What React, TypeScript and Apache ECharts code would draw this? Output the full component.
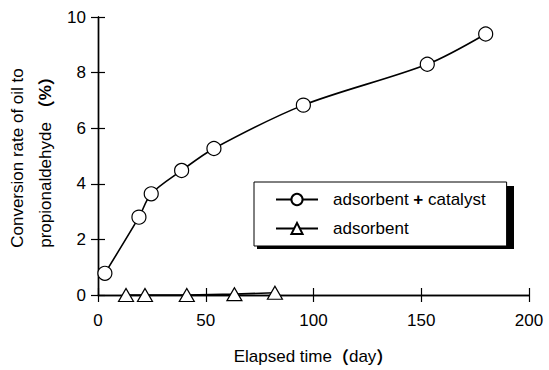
import React, { useEffect, useRef } from "react";
import * as echarts from "echarts";

const catalystDays = [3.2, 19, 24.7, 38.8, 53.8, 95.3, 152.8, 179.9];
const catalystRate = [0.78, 2.8, 3.64, 4.48, 5.27, 6.83, 8.3, 9.39];
const adsorbentDays = [13, 21.8, 41.2, 63.3, 82.1];
const adsorbentRate = [0, 0, 0, 0.03, 0.08];
const seriesNames = ["adsorbent + catalyst", "adsorbent"];
const yNameLines = ["Conversion rate of oil to", "propionaldehyde {p|（}{b|%}{p|）}"];
const xName = "Elapsed time{p|（}day{p|）}";

const FONT = "'Liberation Sans', Arial, 'Noto Sans CJK JP', sans-serif";
const CJK = "'Noto Sans CJK JP', sans-serif";

export default function App() {
  const ref = useRef<HTMLDivElement>(null);
  useEffect(() => {
    if (!ref.current) return;
    const chart = echarts.init(ref.current, null, { renderer: "svg" });
    const axisLine = { show: true, lineStyle: { color: "#000", width: 1.4 } };
    const tick = { show: true, inside: true, length: 7, lineStyle: { color: "#000", width: 1.2 } };
    const yNameStyle = (text: string) => ({
      text,
      fill: "#000",
      fontSize: 17,
      fontFamily: FONT,
      align: "center",
      verticalAlign: "middle",
      rich: {
        b: { fontSize: 17, fontWeight: "bold", fontFamily: FONT },
        p: { fontSize: 17, fontWeight: "bold", fontFamily: CJK },
      },
    });
    chart.setOption({
      animation: false,
      backgroundColor: "#fff",
      grid: { left: 98, right: 20, top: 17, bottom: 70 },
      graphic: [
        {
          type: "text",
          x: 17,
          y: 158,
          rotation: Math.PI / 2,
          style: yNameStyle(yNameLines[0]),
        },
        {
          type: "text",
          x: 45,
          y: 158,
          rotation: Math.PI / 2,
          style: yNameStyle(yNameLines[1]),
        },
        {
          type: "rect",
          z: 1,
          shape: { x: 257, y: 186, width: 257, height: 63 },
          style: { fill: "#000" },
        },
      ],
      xAxis: [
        {
          type: "value",
          min: 0,
          max: 200,
          interval: 50,
          position: "bottom",
          axisLine,
          axisTick: tick,
          splitLine: { show: false },
          axisLabel: { color: "#000", fontSize: 17, fontFamily: FONT, margin: 17 },
          name: xName,
          nameLocation: "middle",
          nameGap: 53,
          nameTextStyle: {
            color: "#000",
            fontSize: 17,
            fontFamily: FONT,
            rich: { p: { fontSize: 17, fontWeight: "bold", fontFamily: CJK } },
          },
        },
        {
          type: "value",
          min: 0,
          max: 200,
          interval: 50,
          position: "top",
          axisLine,
          axisTick: tick,
          splitLine: { show: false },
          axisLabel: { show: false },
        },
      ],
      yAxis: [
        {
          type: "value",
          min: 0,
          max: 10,
          interval: 2,
          position: "left",
          axisLine,
          axisTick: tick,
          splitLine: { show: false },
          axisLabel: { color: "#000", fontSize: 17, fontFamily: FONT, margin: 12 },
        },
        {
          type: "value",
          min: 0,
          max: 10,
          interval: 2,
          position: "right",
          axisLine,
          axisTick: tick,
          splitLine: { show: false },
          axisLabel: { show: false },
        },
      ],
      legend: {
        orient: "vertical",
        left: 254,
        top: 182,
        z: 5,
        padding: [9, 21, 9, 21],
        itemGap: 12,
        itemWidth: 42,
        itemHeight: 14,
        backgroundColor: "#fff",
        borderColor: "#000",
        borderWidth: 1,
        data: seriesNames,
        formatter: (n: string) =>
          n === seriesNames[0] ? "adsorbent {p|+} catalyst" : n,
        textStyle: {
          color: "#000",
          fontSize: 17,
          fontFamily: FONT,
          lineHeight: 16,
          padding: [0, 0, 0, 10],
          rich: { p: { fontSize: 17, fontWeight: "bold", fontFamily: FONT } },
        },
      },
      series: [
        {
          name: seriesNames[0],
          type: "line",
          data: catalystDays.map((d, i) => [d, catalystRate[i]]),
          smooth: 0.3,
          symbol: "circle",
          symbolSize: 14,
          clip: false,
          lineStyle: { color: "#000", width: 1.6 },
          itemStyle: { color: "#fff", borderColor: "#000", borderWidth: 1.2 },
          z: 3,
        },
        {
          name: seriesNames[1],
          type: "line",
          data: adsorbentDays.map((d, i) => [d, adsorbentRate[i]]),
          symbol: "triangle",
          symbolSize: [15, 13],
          clip: false,
          lineStyle: { color: "#000", width: 1.6 },
          itemStyle: { color: "#fff", borderColor: "#000", borderWidth: 1.2 },
          z: 3,
        },
      ],
    });
    return () => chart.dispose();
  }, []);
  return (
    <div
      ref={ref}
      style={{ position: "absolute", left: 0, top: 0, width: 549, height: 370 }}
    />
  );
}
